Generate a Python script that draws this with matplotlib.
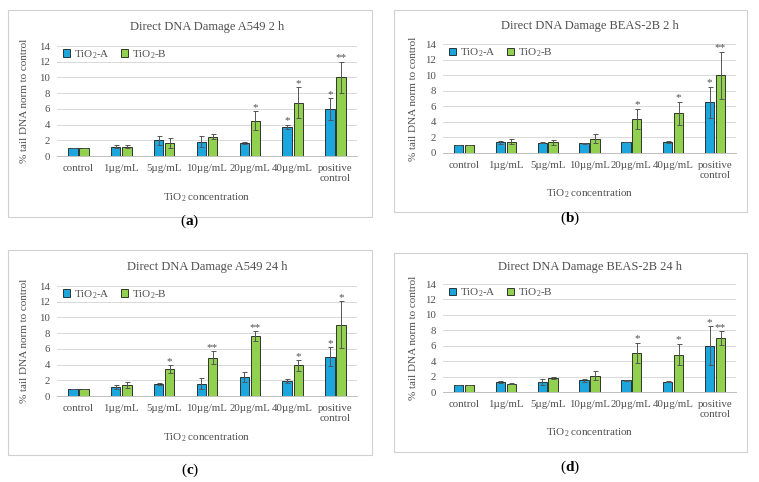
import numpy as np
import matplotlib
matplotlib.use("Agg")
import matplotlib.pyplot as plt
from matplotlib.patches import Rectangle

plt.rcParams["font.family"] = ["Liberation Serif", "DejaVu Serif"]
plt.rcParams["mathtext.fontset"] = "custom"
plt.rcParams["mathtext.rm"] = "Liberation Serif"
plt.rcParams["mathtext.it"] = "Liberation Serif:italic"
plt.rcParams["mathtext.bf"] = "Liberation Serif:bold"

categories = ["control", "1µg/mL", "5µg/mL", "10µg/mL", "20µg/mL", "40µg/mL", "positive\ncontrol"]

# (a) A549 2 h
a_tio2a = [1.0, 1.2, 2.0, 1.8, 1.65, 3.7, 5.95]
a_tio2a_err = [0.0, 0.2, 0.6, 0.7, 0.1, 0.3, 1.4]
a_tio2b = [1.0, 1.2, 1.65, 2.45, 4.5, 6.8, 10.0]
a_tio2b_err = [0.0, 0.15, 0.6, 0.3, 1.2, 2.0, 2.0]
a_stars_a = ["", "", "", "", "", "*", "*"]
a_stars_b = ["", "", "", "", "*", "*", "**"]

# (b) BEAS-2B 2 h
b_tio2a = [1.0, 1.35, 1.3, 1.25, 1.4, 1.45, 6.5]
b_tio2a_err = [0.0, 0.15, 0.05, 0.05, 0.05, 0.15, 2.0]
b_tio2b = [1.0, 1.45, 1.35, 1.85, 4.4, 5.1, 10.0]
b_tio2b_err = [0.0, 0.3, 0.3, 0.55, 1.3, 1.5, 3.0]
b_stars_a = ["", "", "", "", "", "", "*"]
b_stars_b = ["", "", "", "", "*", "*", "**"]

# (c) A549 24 h
c_tio2a = [0.95, 1.15, 1.5, 1.55, 2.4, 1.9, 5.0]
c_tio2a_err = [0.0, 0.2, 0.15, 0.7, 0.6, 0.3, 1.2]
c_tio2b = [0.95, 1.4, 3.4, 4.9, 7.65, 3.9, 9.05]
c_tio2b_err = [0.0, 0.35, 0.5, 0.8, 0.6, 0.7, 3.0]
c_stars_a = ["", "", "", "", "", "", "*"]
c_stars_b = ["", "", "*", "**", "**", "*", "*"]

# (d) BEAS-2B 24 h
d_tio2a = [0.95, 1.3, 1.3, 1.5, 1.5, 1.35, 6.0]
d_tio2a_err = [0.0, 0.1, 0.35, 0.25, 0.1, 0.05, 2.5]
d_tio2b = [0.95, 1.1, 1.8, 2.1, 5.1, 4.85, 7.0]
d_tio2b_err = [0.0, 0.1, 0.15, 0.6, 1.3, 1.4, 0.9]
d_stars_a = ["", "", "", "", "", "", "*"]
d_stars_b = ["", "", "", "", "*", "*", "**"]

W, H = 759, 482
blue = "#1ba6dd"
green = "#92d050"
txt = "#505050"

panels = [
    dict(title="Direct DNA Damage A549 2 h", label="a", a=a_tio2a, ae=a_tio2a_err, b=a_tio2b, be=a_tio2b_err,
         sa=a_stars_a, sb=a_stars_b, axes=(57, 46, 357, 156), box=(8, 10, 372, 217),
         ty=27, xly=198, yx=25, ly=221),
    dict(title="Direct DNA Damage BEAS-2B 2 h", label="b", a=b_tio2a, ae=b_tio2a_err, b=b_tio2b, be=b_tio2b_err,
         sa=b_stars_a, sb=b_stars_b, axes=(443, 44, 736, 153), box=(394, 10, 747, 212),
         ty=26, xly=194, yx=413, ly=218),
    dict(title="Direct DNA Damage A549 24 h", label="c", a=c_tio2a, ae=c_tio2a_err, b=c_tio2b, be=c_tio2b_err,
         sa=c_stars_a, sb=c_stars_b, axes=(57, 286, 357, 396), box=(8, 250, 372, 455),
         ty=267, xly=438, yx=25, ly=470),
    dict(title="Direct DNA Damage BEAS-2B 24 h", label="d", a=d_tio2a, ae=d_tio2a_err, b=d_tio2b, be=d_tio2b_err,
         sa=d_stars_a, sb=d_stars_b, axes=(443, 284, 736, 392), box=(394, 253, 747, 452),
         ty=267, xly=433, yx=413, ly=467),
]

fig = plt.figure(figsize=(W / 100, H / 100), dpi=100)
x = np.arange(len(categories))
bw = 0.22

for p in panels:
    bx0, by0, bx1, by1 = p["box"]
    fig.patches.append(Rectangle((bx0 / W, 1 - by1 / H), (bx1 - bx0) / W, (by1 - by0) / H,
                                 transform=fig.transFigure, fill=False, edgecolor="#d0d0d0", linewidth=0.8))
    x0, y0, x1, y1 = p["axes"]
    ax = fig.add_axes([x0 / W, 1 - y1 / H, (x1 - x0) / W, (y1 - y0) / H])
    ekw = dict(ecolor="#555555", elinewidth=0.7, capsize=1.8, capthick=0.7)
    ax.bar(x - 0.13, p["a"], bw, yerr=p["ae"], color=blue, edgecolor="#1a1a1a", linewidth=0.6,
           error_kw=ekw, label="TiO$_2$-A", zorder=3)
    ax.bar(x + 0.13, p["b"], bw, yerr=p["be"], color=green, edgecolor="#1a1a1a", linewidth=0.6,
           error_kw=ekw, label="TiO$_2$-B", zorder=3)
    for i in range(len(categories)):
        if p["sa"][i]:
            ax.text(x[i] - 0.13, p["a"][i] + p["ae"][i] - 0.1, p["sa"][i], ha="center", va="bottom",
                    fontsize=8, color=txt)
        if p["sb"][i]:
            ax.text(x[i] + 0.13, p["b"][i] + p["be"][i] - 0.1, p["sb"][i], ha="center", va="bottom",
                    fontsize=8, color=txt)
    ax.set_ylim(0, 14)
    ax.set_xlim(-0.5, len(categories) - 0.5)
    ax.set_yticks(range(0, 15, 2))
    ax.set_xticks(x)
    ax.set_xticklabels(categories, fontsize=7.8, color=txt, linespacing=1.1)
    ax.tick_params(axis="y", labelsize=7.8, colors=txt, length=0, pad=5)
    ax.tick_params(axis="x", length=0, pad=6)
    ax.grid(axis="y", color="#d9d9d9", linewidth=0.7, zorder=0)
    ax.set_axisbelow(True)
    for s in ["top", "right", "left"]:
        ax.spines[s].set_visible(False)
    ax.spines["bottom"].set_color("#bfbfbf")
    ax.spines["bottom"].set_linewidth(0.7)
    leg = ax.legend(loc="upper left", ncol=2, fontsize=8, frameon=False, handlelength=0.7,
                    handleheight=0.7, handletextpad=0.3, columnspacing=1.0, borderaxespad=0.1,
                    bbox_to_anchor=(0.0, 1.03))
    for t in leg.get_texts():
        t.set_color(txt)
    cx = (x0 + x1) / 2 / W
    fig.text(cx, 1 - p["ty"] / H, p["title"], ha="center", va="center", fontsize=9, color=txt)
    fig.text(cx, 1 - p["xly"] / H, "TiO$_2$ concentration", ha="center", va="center", fontsize=8, color=txt)
    fig.text(p["yx"] / W, 1 - (y0 + y1) / 2 / H, "% tail DNA norm to control", rotation=90,
             ha="center", va="center", fontsize=8, color=txt)
    fig.text((bx0 + bx1) / 2 / W, 1 - p["ly"] / H, "($\\mathbf{%s}$)" % p["label"], ha="center",
             va="center", fontsize=11)

fig.savefig("out.png", dpi=100)
